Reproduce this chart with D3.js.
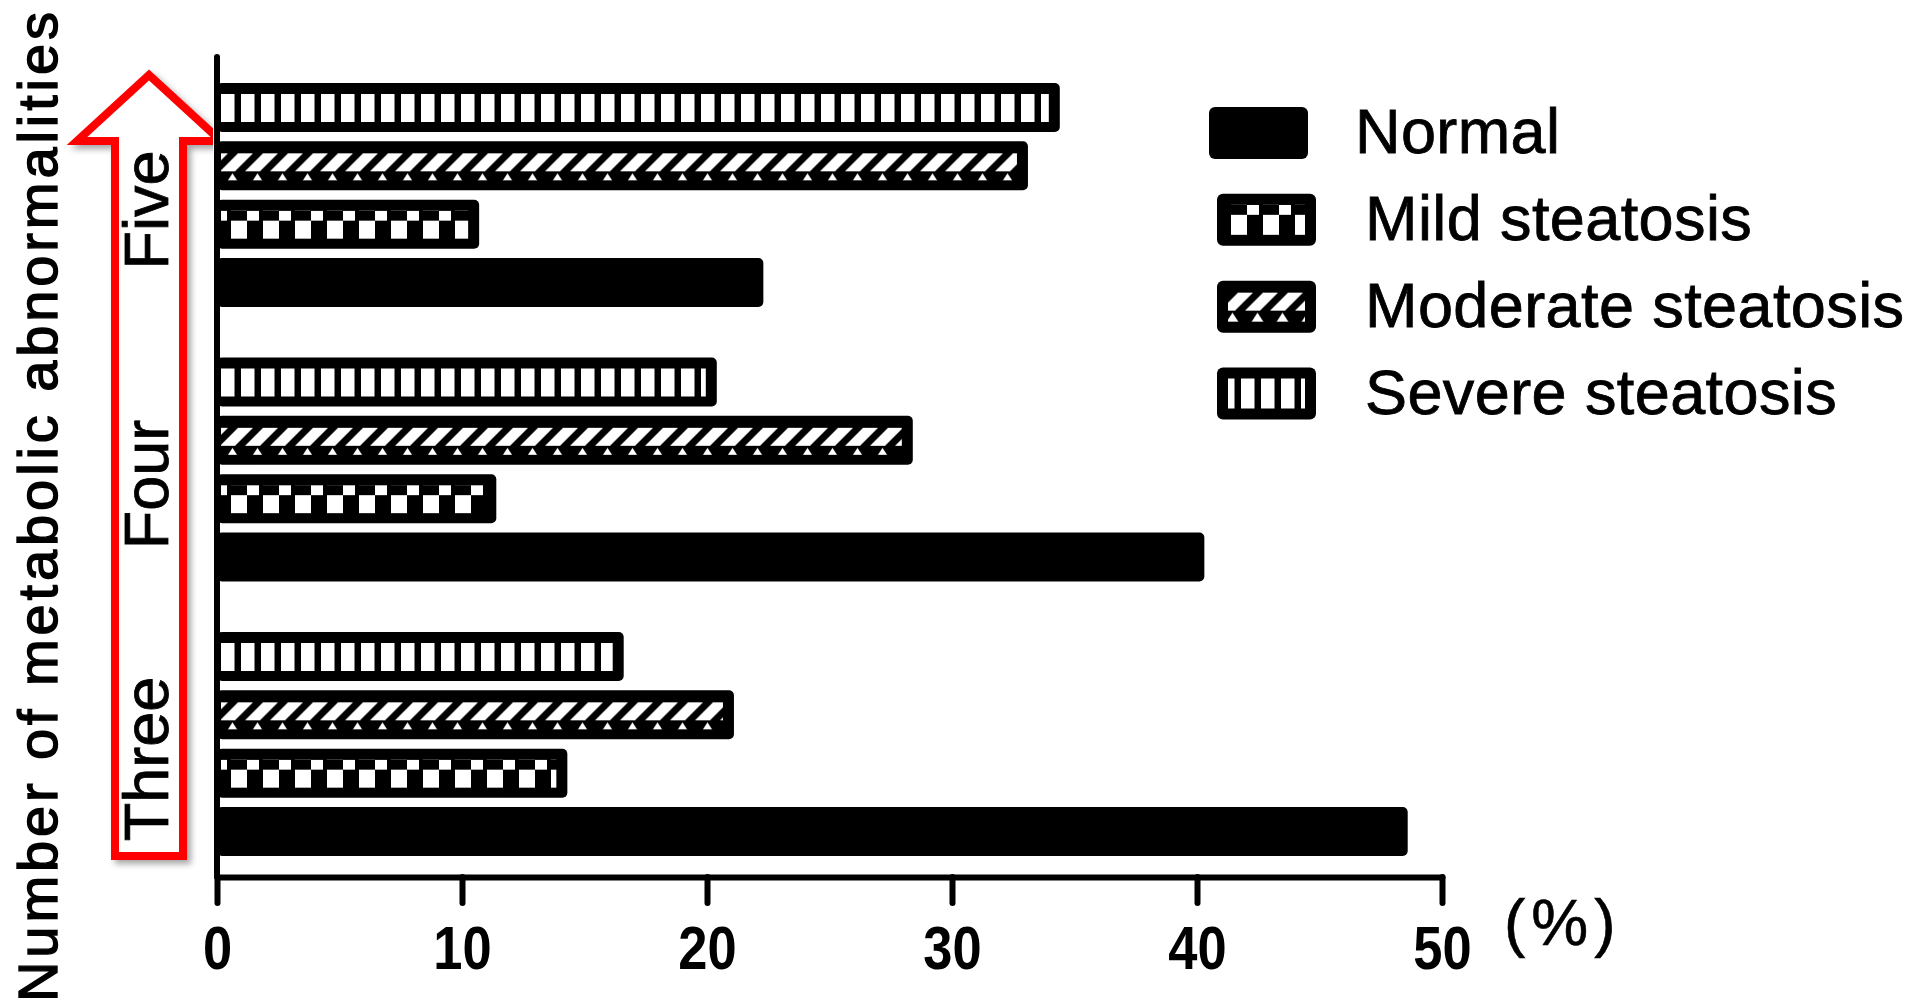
<!DOCTYPE html>
<html>
<head>
<meta charset="utf-8">
<script src="https://cdn.jsdelivr.net/npm/d3@7"></script>
<style>
  html, body { margin: 0; padding: 0; background: #fff; }
  svg { display: block; font-family: "Liberation Sans", Arial, sans-serif; }
</style>
</head>
<body>
<script>
// ---------------- data ----------------
const groups = ["Three", "Four", "Five"];
const seriesNames = ["Normal", "Mild steatosis", "Moderate steatosis", "Severe steatosis"];
const normalValues   = [48.6, 40.3, 22.3];
const mildValues     = [14.3, 11.4, 10.7];
const moderateValues = [21.1, 28.4, 33.1];
const severeValues   = [16.6, 20.4, 34.4];
const xTicks = [0, 10, 20, 30, 40, 50];
const xUnitLabel = "(%)";
const yTitle = "Number of metabolic abnormalities";

const seriesValues = [normalValues, mildValues, moderateValues, severeValues];
const patternIds = ["none", "pat-mild", "pat-moderate", "pat-severe"];

const rows = [];
groups.forEach((g, gi) => {
  seriesNames.forEach((s, si) => {
    rows.push({ group: g, series: s, si: si, value: seriesValues[si][gi] });
  });
});

// ---------------- layout ----------------
const W = 1924, H = 1004;
const svg = d3.select("body").append("svg").attr("width", W).attr("height", H);

const x = d3.scaleLinear().domain([0, 50]).range([217, 1442]);
const y0 = d3.scaleBand().domain(groups.slice().reverse()).range([83, 856])
  .paddingInner(0.184).paddingOuter(0);
const y1 = d3.scaleBand().domain(seriesNames.slice().reverse()).range([0, y0.bandwidth()])
  .paddingInner(0.16).paddingOuter(0);
const axisY = 877;

// ---------------- defs ----------------
const defs = svg.append("defs");

// severe: vertical stripes
const pSev = defs.append("pattern").attr("id", "pat-severe")
  .attr("patternUnits", "userSpaceOnUse").attr("x", 4).attr("y", 11)
  .attr("width", 20).attr("height", 60);
pSev.append("rect").attr("width", 20).attr("height", 60).attr("fill", "#000");
pSev.append("rect").attr("width", 13.5).attr("height", 60).attr("fill", "#fff");

// mild: checker rows
const pMild = defs.append("pattern").attr("id", "pat-mild")
  .attr("patternUnits", "userSpaceOnUse").attr("x", 4).attr("y", 11)
  .attr("width", 32).attr("height", 60);
pMild.append("rect").attr("width", 32).attr("height", 60).attr("fill", "#000");
pMild.append("rect").attr("x", 0).attr("y", 0).attr("width", 6).attr("height", 10).attr("fill", "#fff");
pMild.append("rect").attr("x", 26).attr("y", 0).attr("width", 6).attr("height", 10).attr("fill", "#fff");
pMild.append("rect").attr("x", 10).attr("y", 10).attr("width", 16).attr("height", 50).attr("fill", "#fff");

// moderate: slanted bands with triangles
const pMod = defs.append("pattern").attr("id", "pat-moderate")
  .attr("patternUnits", "userSpaceOnUse").attr("x", 4).attr("y", 11)
  .attr("width", 25).attr("height", 60);
pMod.append("rect").attr("width", 25).attr("height", 60).attr("fill", "#000");
[-25, 0, 25].forEach(dx => {
  pMod.append("polygon")
    .attr("points", `${dx - 1},19 ${dx + 14},19 ${dx + 32},1 ${dx + 17},1`)
    .attr("fill", "#fff");
  pMod.append("polygon")
    .attr("points", `${dx + 5},31 ${dx + 11.5},21 ${dx + 18},31`)
    .attr("fill", "#fff");
});

// drop shadow for the arrow
const filt = defs.append("filter").attr("id", "shadow")
  .attr("x", "-20%").attr("y", "-5%").attr("width", "140%").attr("height", "110%");
filt.append("feDropShadow").attr("dx", 4).attr("dy", 4).attr("stdDeviation", 3)
  .attr("flood-color", "#000").attr("flood-opacity", 0.35);

defs.append("clipPath").attr("id", "arrowClip")
  .append("rect").attr("x", 0).attr("y", 0).attr("width", 213).attr("height", H);

// ---------------- y title ----------------
svg.append("text")
  .attr("transform", `translate(57,${(12 + 1002) / 2}) rotate(-90)`)
  .attr("text-anchor", "middle")
  .attr("font-size", 56)
  .attr("textLength", 990)
  .attr("lengthAdjust", "spacing")
  .attr("fill", "#000")
  .attr("stroke", "#000").attr("stroke-width", 1.4)
  .text(yTitle);

// ---------------- red arrow ----------------
const shaftL = 115, shaftR = 183, headL = 77, headR = 221, headY = 141, tipY = 75, tipX = 149;
svg.append("g").attr("clip-path", "url(#arrowClip)")
  .append("path")
  .attr("d", `M${shaftL},${856} L${shaftL},${headY} L${headL},${headY} L${tipX},${tipY} L${headR},${headY} L${shaftR},${headY} L${shaftR},${856} Z`)
  .attr("fill", "#fff")
  .attr("stroke", "#ff0000")
  .attr("stroke-width", 8)
  .attr("stroke-linejoin", "miter")
  .attr("filter", "url(#shadow)");

// group labels
svg.append("g").selectAll("text").data(groups).join("text")
  .attr("transform", d => `translate(168,${y0(d) + y0.bandwidth() / 2 + 15}) rotate(-90)`)
  .attr("text-anchor", "middle")
  .attr("font-size", 63)
  .attr("fill", "#000")
  .attr("stroke", "#000").attr("stroke-width", 0.8)
  .text(d => d);

// ---------------- bars ----------------
const bh = y1.bandwidth();
const barG = svg.append("g").selectAll("g").data(rows).join("g")
  .attr("transform", d => `translate(${x(0)},${y0(d.group) + y1(d.series)})`);
barG.append("rect")
  .attr("width", d => x(d.value) - x(0))
  .attr("height", bh)
  .attr("rx", 5)
  .attr("fill", "#000");
barG.filter(d => d.si > 0).append("rect")
  .attr("x", 4).attr("y", 11)
  .attr("width", d => Math.max(0, x(d.value) - x(0) - 4 - 11))
  .attr("height", bh - 21)
  .attr("fill", d => `url(#${patternIds[d.si]})`);

// ---------------- axes ----------------
svg.append("line")
  .attr("x1", x(0)).attr("x2", x(0))
  .attr("y1", 57).attr("y2", axisY)
  .attr("stroke", "#000").attr("stroke-width", 6).attr("stroke-linecap", "round");

const xAxis = d3.axisBottom(x).tickValues(xTicks).tickSize(26).tickSizeOuter(0).tickPadding(23);
const gx = svg.append("g").attr("transform", `translate(0,${axisY})`).call(xAxis);
gx.select(".domain").attr("stroke", "#000").attr("stroke-width", 6).attr("stroke-linecap", "round");
gx.selectAll(".tick line").attr("stroke", "#000").attr("stroke-width", 6).attr("stroke-linecap", "round");
gx.selectAll(".tick text")
  .attr("font-family", "'Liberation Sans', Arial, sans-serif")
  .attr("font-size", 61).attr("font-weight", "bold").attr("fill", "#000")
  .attr("transform", "scale(0.86,1)");

svg.append("text")
  .attr("x", x(50) + 62).attr("y", 945)
  .attr("font-size", 64)
  .attr("letter-spacing", 6)
  .attr("fill", "#000")
  .attr("stroke", "#000").attr("stroke-width", 0.6)
  .text(xUnitLabel);

// ---------------- legend ----------------
const ly = d3.scalePoint().domain(seriesNames).range([133, 393.5]);
const legG = svg.append("g").selectAll("g").data(seriesNames).join("g")
  .attr("transform", (d, i) => `translate(${i === 0 ? 1209 : 1217},${ly(d) - 26})`);
legG.append("rect").attr("width", 99).attr("height", 52).attr("rx", 6).attr("fill", "#000");
legG.filter((d, i) => i > 0).append("rect")
  .attr("x", 11).attr("y", 11).attr("width", 77).attr("height", 30)
  .attr("fill", (d, i) => `url(#${patternIds[i + 1]})`);
svg.append("g").selectAll("text").data(seriesNames).join("text")
  .attr("x", (d, i) => i === 0 ? 1355 : 1365)
  .attr("y", d => ly(d) + 20)
  .attr("font-size", 63)
  .attr("letter-spacing", 0.4)
  .attr("fill", "#000")
  .attr("stroke", "#000").attr("stroke-width", 0.8)
  .text(d => d);
</script>
</body>
</html>
